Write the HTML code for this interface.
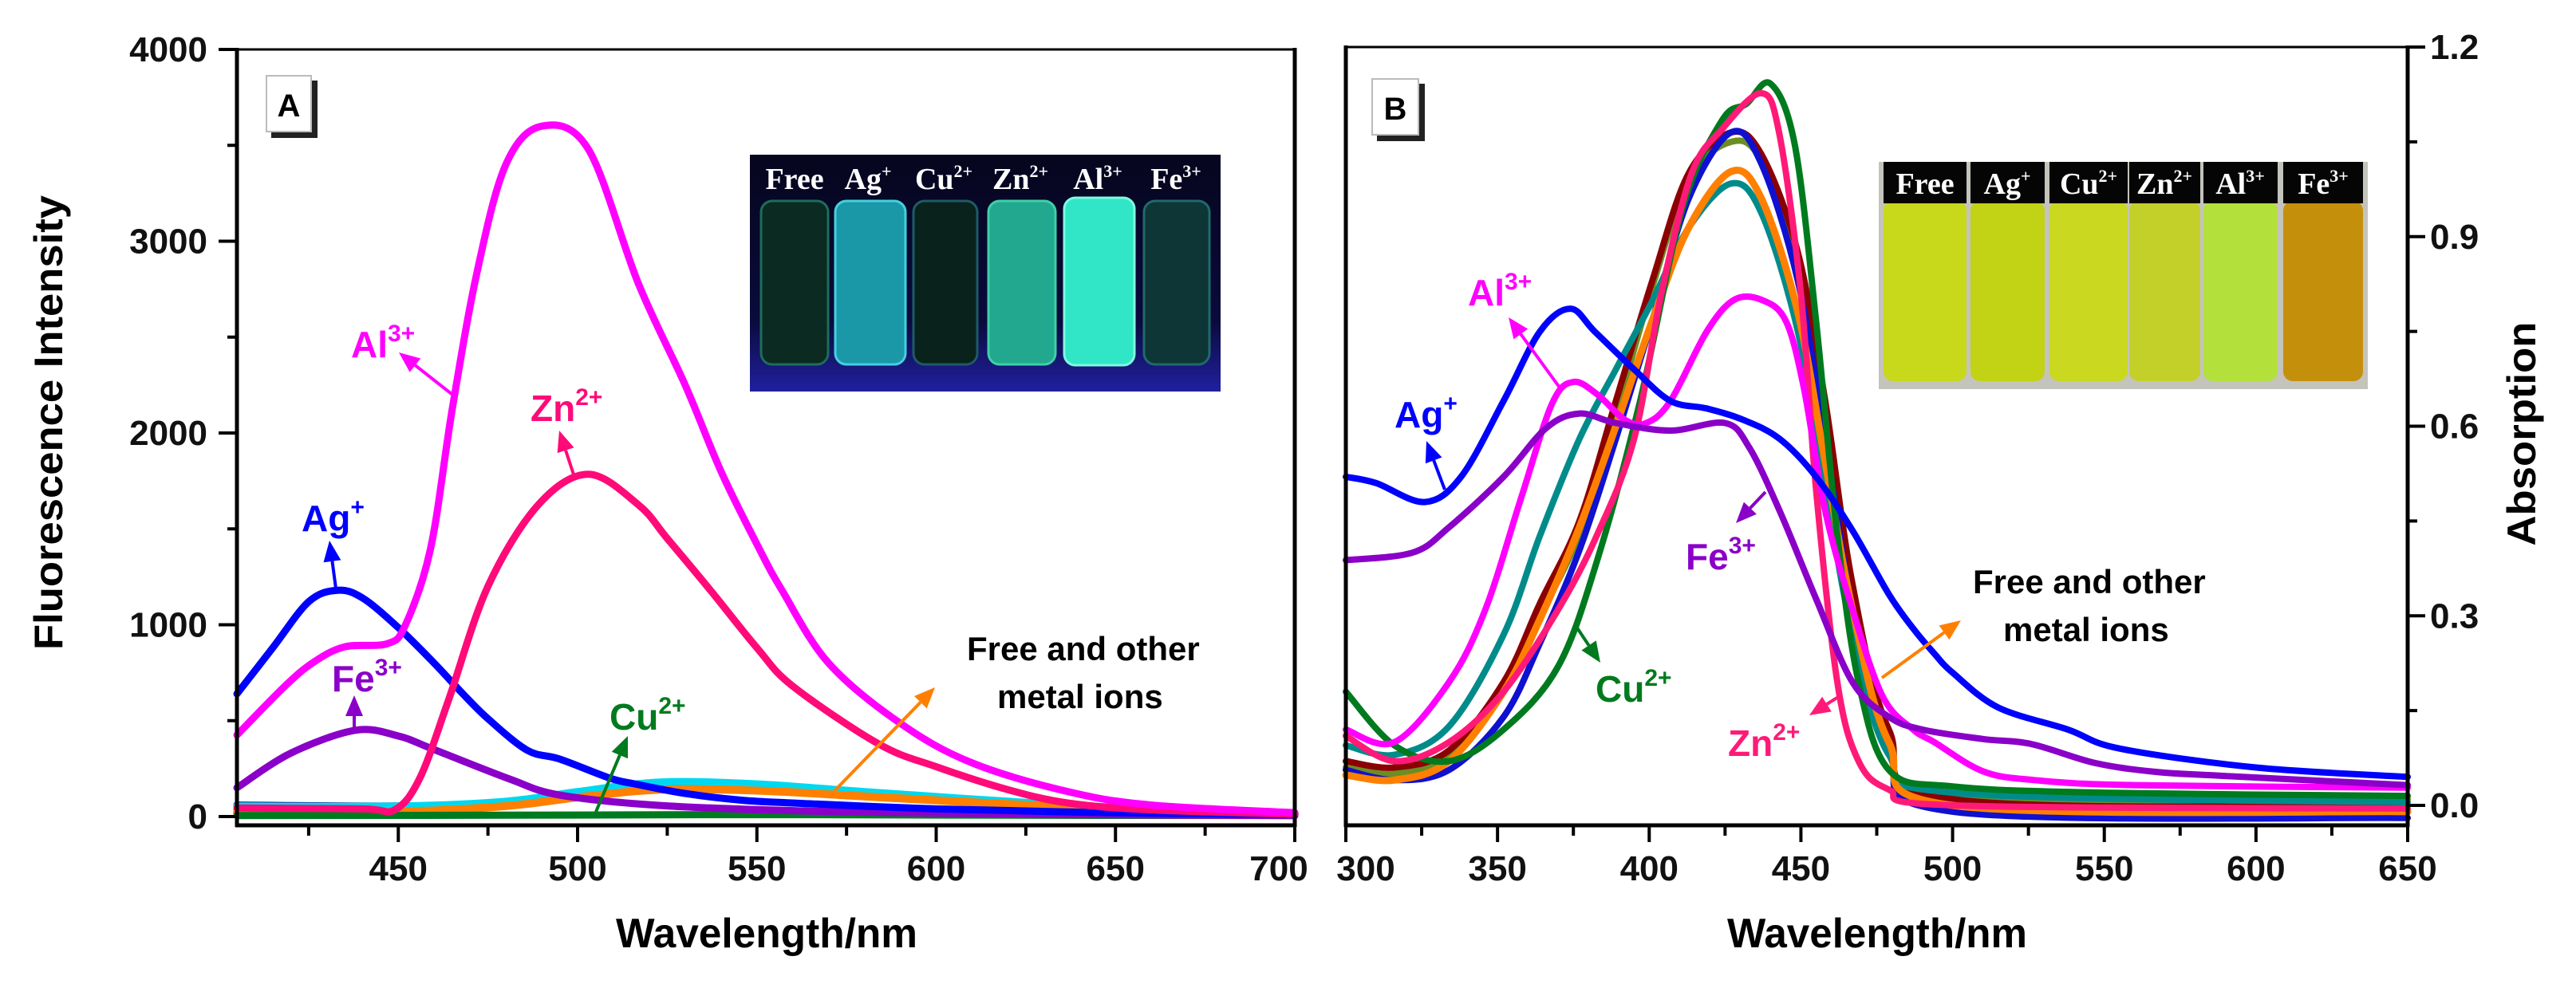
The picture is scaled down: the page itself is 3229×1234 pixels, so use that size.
<!DOCTYPE html>
<html><head><meta charset="utf-8"><title>Fluorescence and absorption spectra</title>
<style>
html,body{margin:0;padding:0;background:#fff;}
svg{display:block;font-family:"Liberation Sans",Arial,sans-serif;}
.tk{font-size:44px;font-weight:bold;fill:#111;}
.lab{font-size:46px;font-weight:bold;}
.vl{font-family:"Liberation Serif",serif;font-weight:bold;font-size:38px;fill:#fff;}
</style></head>
<body>
<svg id="chart" width="3229" height="1234" viewBox="0 0 3229 1234" xmlns="http://www.w3.org/2000/svg">
<rect x="0" y="0" width="3229" height="1234" fill="#fff"/>
<g id="gA"></g>
<g id="gB"></g>
<g id="axes"></g>

<g stroke="#000" fill="none">
  <line x1="297" y1="62" x2="1623" y2="62" stroke-width="3"/>
  <line x1="297" y1="60" x2="297" y2="1037" stroke-width="5"/>
  <line x1="295" y1="1035" x2="1625" y2="1035" stroke-width="5"/>
  <line x1="1623" y1="60" x2="1623" y2="1037" stroke-width="5"/>
</g>
<g stroke="#000" fill="none">
  <line x1="1687" y1="59" x2="3018" y2="59" stroke-width="3"/>
  <line x1="1687" y1="57" x2="1687" y2="1037" stroke-width="5"/>
  <line x1="1685" y1="1035" x2="3020" y2="1035" stroke-width="5"/>
  <line x1="3018" y1="57" x2="3018" y2="1037" stroke-width="5"/>
</g>

<text transform="translate(78,530) rotate(-90)" text-anchor="middle" font-size="50" font-weight="bold" textLength="570" lengthAdjust="spacingAndGlyphs">Fluorescence Intensity</text>
<text x="961" y="1188" text-anchor="middle" font-size="52" font-weight="bold" textLength="378" lengthAdjust="spacingAndGlyphs">Wavelength/nm</text>
<text x="2353" y="1188" text-anchor="middle" font-size="52" font-weight="bold" textLength="376" lengthAdjust="spacingAndGlyphs">Wavelength/nm</text>
<text transform="translate(3178,544) rotate(-90)" text-anchor="middle" font-size="50" font-weight="bold" textLength="281" lengthAdjust="spacingAndGlyphs">Absorption</text>

<g>
  <rect x="340" y="101" width="58" height="72" fill="#222"/>
  <rect x="334" y="95" width="56" height="70" fill="#fff" stroke="#bbb" stroke-width="2"/>
  <text x="362" y="146" text-anchor="middle" font-size="40" font-weight="bold">A</text>
</g>
<g>
  <rect x="1726" y="105" width="60" height="72" fill="#222"/>
  <rect x="1720" y="99" width="58" height="70" fill="#fff" stroke="#bbb" stroke-width="2"/>
  <text x="1749" y="150" text-anchor="middle" font-size="40" font-weight="bold">B</text>
</g>

<defs>
  <linearGradient id="uvbg" x1="0" y1="0" x2="0" y2="1">
    <stop offset="0" stop-color="#06061e"/><stop offset="0.7" stop-color="#0a0a3c"/><stop offset="1" stop-color="#2020a0"/>
  </linearGradient>
</defs>
<g>
  <rect x="940" y="194" width="590" height="297" fill="url(#uvbg)"/>
  <rect x="954" y="252" width="84" height="205" rx="14" fill="#0b2a22" stroke="#1c6e58" stroke-width="3"/>
  <rect x="1047" y="252" width="88" height="205" rx="14" fill="#1a98a8" stroke="#45d0e0" stroke-width="3"/>
  <rect x="1145" y="252" width="80" height="205" rx="14" fill="#0a221c" stroke="#1f5a66" stroke-width="3"/>
  <rect x="1239" y="252" width="84" height="205" rx="14" fill="#22a88e" stroke="#3fd0a8" stroke-width="3"/>
  <rect x="1334" y="248" width="88" height="210" rx="14" fill="#30e6c6" stroke="#7ff8e0" stroke-width="3"/>
  <rect x="1434" y="252" width="82" height="205" rx="14" fill="#0e3636" stroke="#1f6a6a" stroke-width="3"/>
  <text class="vl" x="996" y="237" text-anchor="middle">Free</text>
  <text class="vl" x="1088" y="237" text-anchor="middle">Ag<tspan dy="-15" font-size="22">+</tspan></text>
  <text class="vl" x="1183" y="237" text-anchor="middle">Cu<tspan dy="-15" font-size="22">2+</tspan></text>
  <text class="vl" x="1279" y="237" text-anchor="middle">Zn<tspan dy="-15" font-size="22">2+</tspan></text>
  <text class="vl" x="1376" y="237" text-anchor="middle">Al<tspan dy="-15" font-size="22">3+</tspan></text>
  <text class="vl" x="1474" y="237" text-anchor="middle">Fe<tspan dy="-15" font-size="22">3+</tspan></text>
</g>

<g>
  <rect x="2355" y="203" width="613" height="285" fill="#c4c4bc"/>
  <rect x="2361" y="252" width="104" height="226" rx="12" fill="#c8d81a"/>
  <rect x="2470" y="252" width="93" height="226" rx="12" fill="#c2d214"/>
  <rect x="2569" y="252" width="98" height="226" rx="12" fill="#cad820"/>
  <rect x="2669" y="252" width="89" height="226" rx="12" fill="#c4d02a"/>
  <rect x="2762" y="252" width="93" height="226" rx="12" fill="#b4e03c"/>
  <rect x="2862" y="252" width="100" height="226" rx="12" fill="#c4900c"/>
  <rect x="2361" y="203" width="104" height="52" fill="#050505"/>
  <rect x="2470" y="203" width="93" height="52" fill="#050505"/>
  <rect x="2569" y="203" width="98" height="52" fill="#050505"/>
  <rect x="2669" y="203" width="89" height="52" fill="#050505"/>
  <rect x="2762" y="203" width="93" height="52" fill="#050505"/>
  <rect x="2862" y="203" width="100" height="52" fill="#050505"/>
  <text class="vl" x="2413" y="243" text-anchor="middle">Free</text>
  <text class="vl" x="2516" y="243" text-anchor="middle">Ag<tspan dy="-15" font-size="22">+</tspan></text>
  <text class="vl" x="2618" y="243" text-anchor="middle">Cu<tspan dy="-15" font-size="22">2+</tspan></text>
  <text class="vl" x="2713" y="243" text-anchor="middle">Zn<tspan dy="-15" font-size="22">2+</tspan></text>
  <text class="vl" x="2808" y="243" text-anchor="middle">Al<tspan dy="-15" font-size="22">3+</tspan></text>
  <text class="vl" x="2912" y="243" text-anchor="middle">Fe<tspan dy="-15" font-size="22">3+</tspan></text>
</g>

<g id="annA"></g>
<g id="annB"></g>

<text x="1212" y="828" font-size="42" font-weight="bold">Free and other</text>
<text x="1250" y="888" font-size="42" font-weight="bold">metal ions</text>
<text x="2473" y="744" font-size="42" font-weight="bold">Free and other</text>
<text x="2511" y="804" font-size="42" font-weight="bold">metal ions</text>
</svg>

<script>
// ---------- Panel A data (fluorescence intensity) ----------
const ticksAX = [450, 500, 550, 600, 650, 700];
const minorAX = [425, 475, 525, 575, 625, 675];
const ticksAY = [0, 1000, 2000, 3000, 4000];
const minorAY = [500, 1500, 2500, 3500];

const wlA_Al = [405,418,426,435,447,452,459,465,472,480,490,503,517,530,540,550,557,570,590,610,637,660,700];
const valA_Al = [425,673,800,885,902,1000,1397,2120,2843,3400,3600,3480,2777,2250,1800,1420,1180,800,486,280,129,60,20];
const wlA_Zn = [405,440,449,456,464,475,489,503,517,525,537,550,560,584,600,620,637,660,700];
const valA_Zn = [45,40,35,200,607,1200,1625,1785,1625,1450,1181,880,680,378,260,140,70,35,12];
const wlA_Ag = [405,415,425,433,440,450,460,468,475,486,495,509,516,530,546,561,600,650,700];
const valA_Ag = [640,880,1120,1180,1140,985,800,640,510,345,300,200,170,120,85,70,40,20,10];
const wlA_Fe = [405,420,438,450,460,481,495,523,561,600,650,700];
const valA_Fe = [150,330,450,420,349,196,112,58,30,18,10,5];
const wlA_Cu = [405,500,550,600,700];
const valA_Cu = [5,8,10,8,5];
const wlA_free = [405,450,480,500,523,550,580,620,660,700];
const valA_cyan = [55,55,80,130,180,170,130,80,40,20];
const valA_navy = [60,55,70,115,160,155,120,75,38,18];
const valA_teal = [40,40,65,115,160,150,115,70,36,16];
const valA_orange = [20,25,55,100,140,135,105,65,35,15];

// ---------- Panel B data (absorption) ----------
const ticksBX = [300, 350, 400, 450, 500, 550, 600, 650];
const minorBX = [325, 375, 425, 475, 525, 575, 625];
const ticksBY = [0.0, 0.3, 0.6, 0.9, 1.2];
const tickLabelsBY = ["0.0", "0.3", "0.6", "0.9", "1.2"];
const minorBY = [0.15, 0.45, 0.75, 1.05];

const wlB_Ag = [300,310,326,338,352,364,374,382,395,407,419,431,443,455,467,479,487,494,500,515,538,555,600,650];
const valB_Ag = [0.52,0.51,0.48,0.52,0.64,0.75,0.786,0.75,0.69,0.64,0.628,0.61,0.58,0.52,0.435,0.334,0.28,0.24,0.21,0.155,0.12,0.09,0.06,0.045];
const wlB_Fe = [300,322,334,352,366,377,389,407,425,433,443,455,467,479,490,510,526,547,567,588,650];
const valB_Fe = [0.388,0.40,0.44,0.52,0.597,0.62,0.605,0.593,0.605,0.566,0.466,0.327,0.195,0.14,0.12,0.105,0.097,0.067,0.053,0.047,0.032];
const wlB_Al = [300,316,334,346,358,368,375,383,392,399,407,419,428,437,445,451,458,467,477,487,494,510,527,560,650];
const valB_Al = [0.12,0.10,0.195,0.31,0.49,0.636,0.67,0.65,0.61,0.605,0.64,0.75,0.80,0.80,0.767,0.66,0.466,0.31,0.172,0.12,0.1,0.054,0.04,0.032,0.028];
const wlB_Cu = [300,316,334,352,370,383,397,411,424,432,440,448,455,462,469,479,500,550,650];
const valB_Cu = [0.18,0.095,0.07,0.12,0.22,0.39,0.64,0.945,1.084,1.11,1.142,1.045,0.767,0.427,0.195,0.056,0.03,0.02,0.015];
const wlB_Zn = [300,316,334,352,370,383,395,404,414,424,437,443,450,455,462,469,479,500,650];
const valB_Zn = [0.11,0.07,0.10,0.18,0.31,0.43,0.58,0.81,1.0,1.07,1.127,1.06,0.81,0.50,0.195,0.07,0.025,0.0,-0.005];
const wlB_free = [300,316,334,352,364,377,389,401,413,427,437,449,458,467,479,500,650];
const valB_teal = [0.095,0.08,0.125,0.27,0.427,0.58,0.69,0.798,0.914,0.984,0.937,0.75,0.504,0.27,0.08,0.02,0.005];
const valB_orange = [0.048,0.04,0.07,0.18,0.295,0.44,0.6,0.767,0.914,1.003,0.96,0.78,0.543,0.31,0.10,0.0,-0.01];
const valB_blue2 = [0.056,0.04,0.056,0.14,0.257,0.404,0.58,0.767,0.96,1.065,1.015,0.83,0.58,0.31,0.087,-0.01,-0.02];
const valB_darkred = [0.07,0.06,0.087,0.195,0.32,0.45,0.64,0.83,1.0,1.065,1.03,0.875,0.64,0.35,0.12,0.01,0.0];
const valB_olive = [0.06,0.05,0.08,0.18,0.3,0.43,0.62,0.82,0.99,1.05,1.02,0.86,0.62,0.34,0.11,0.015,0.01];

function xA(w){ return 297 + (w - 405) * (1623 - 297) / 295; }
function yA(v){ return 1024 - v * (1024 - 62) / 4000; }
function xB(w){ return 1687 + (w - 300) * (3018 - 1687) / 350; }
function yB(v){ return 1010 - v * (1010 - 59) / 1.2; }

const NS = "http://www.w3.org/2000/svg";
function smoothPath(pts){
  let d = "M" + pts[0][0].toFixed(1) + "," + pts[0][1].toFixed(1);
  for (let i = 0; i < pts.length - 1; i++){
    const p0 = pts[i-1] || pts[i], p1 = pts[i], p2 = pts[i+1], p3 = pts[i+2] || p2;
    const c1x = p1[0] + (p2[0]-p0[0])/6, c1y = p1[1] + (p2[1]-p0[1])/6;
    const c2x = p2[0] - (p3[0]-p1[0])/6, c2y = p2[1] - (p3[1]-p1[1])/6;
    d += " C" + c1x.toFixed(1)+","+c1y.toFixed(1)+" "+c2x.toFixed(1)+","+c2y.toFixed(1)+" "+p2[0].toFixed(1)+","+p2[1].toFixed(1);
  }
  return d;
}
function drawSeries(g, xs, ys, sx, sy, color, w, name){
  const pts = xs.map((x,i)=>[sx(x), sy(ys[i])]);
  const p = document.createElementNS(NS, "path");
  p.setAttribute("d", smoothPath(pts));
  p.setAttribute("fill", "none");
  p.setAttribute("stroke", color);
  p.setAttribute("stroke-width", w);
  p.setAttribute("stroke-linejoin", "round");
  p.setAttribute("stroke-linecap", "round");
  
  
  g.appendChild(p);
}
const gA = document.getElementById("gA");
drawSeries(gA, wlA_free, valA_navy, xA, yA, "#1a1a8c", 9, "curve-a-free-navy");
drawSeries(gA, wlA_free, valA_teal, xA, yA, "#008b8b", 9, "curve-a-free-teal");
drawSeries(gA, wlA_free, valA_cyan, xA, yA, "#00d8f0", 9, "curve-a-free-cyan");
drawSeries(gA, wlA_free, valA_orange, xA, yA, "#ff8000", 10, "curve-a-free-orange");
drawSeries(gA, wlA_Cu, valA_Cu, xA, yA, "#007a1e", 9, "curve-a-cu");
drawSeries(gA, wlA_Fe, valA_Fe, xA, yA, "#8a00c8", 9, "curve-a-fe");
drawSeries(gA, wlA_Ag, valA_Ag, xA, yA, "#0000ff", 9, "curve-a-ag");
drawSeries(gA, wlA_Zn, valA_Zn, xA, yA, "#ff0a78", 9, "curve-a-zn");
drawSeries(gA, wlA_Al, valA_Al, xA, yA, "#ff00ff", 9, "curve-a-al");

const gB = document.getElementById("gB");
drawSeries(gB, wlB_free, valB_olive, xB, yB, "#6b8e23", 8, "curve-b-free-olive");
drawSeries(gB, wlB_free, valB_darkred, xB, yB, "#8b0000", 8, "curve-b-free-darkred");
drawSeries(gB, wlB_free, valB_blue2, xB, yB, "#1010d0", 8, "curve-b-free-blue");
drawSeries(gB, wlB_free, valB_teal, xB, yB, "#008b8b", 8, "curve-b-free-teal");
drawSeries(gB, wlB_free, valB_orange, xB, yB, "#ff8000", 9, "curve-b-free-orange");
drawSeries(gB, wlB_Cu, valB_Cu, xB, yB, "#007a1e", 8, "curve-b-cu");
drawSeries(gB, wlB_Zn, valB_Zn, xB, yB, "#ff1a78", 8, "curve-b-zn");
drawSeries(gB, wlB_Al, valB_Al, xB, yB, "#ff00ff", 8, "curve-b-al");
drawSeries(gB, wlB_Fe, valB_Fe, xB, yB, "#8a00c8", 8, "curve-b-fe");
drawSeries(gB, wlB_Ag, valB_Ag, xB, yB, "#0000ff", 8, "curve-b-ag");

const ax = document.getElementById("axes");
function line(x1,y1,x2,y2,w,name){
  const l = document.createElementNS(NS,"line");
  l.setAttribute("x1",x1); l.setAttribute("y1",y1); l.setAttribute("x2",x2); l.setAttribute("y2",y2);
  l.setAttribute("stroke","#000"); l.setAttribute("stroke-width",w);
  
  
  ax.appendChild(l);
}
function label(x,y,txt,anchor,name){
  const t = document.createElementNS(NS,"text");
  t.setAttribute("x",x); t.setAttribute("y",y); t.setAttribute("text-anchor",anchor);
  t.setAttribute("class","tk"); t.textContent = txt;
  
  
  ax.appendChild(t);
}
ticksAX.forEach((v,i)=>{ line(xA(v),1035,xA(v),1056,4,"x-tick-a"); label(xA(v) - (i===ticksAX.length-1?20:0),1104,String(v),"middle","x-tick-label-a"); });
minorAX.forEach(v=>{ line(xA(v),1035,xA(v),1048,4,"x-minor-tick-a"); });
ticksAY.forEach(v=>{ line(274,yA(v),297,yA(v),4,"y-tick-a"); label(260,yA(v)+15,String(v),"end","y-tick-label-a"); });
minorAY.forEach(v=>{ line(285,yA(v),297,yA(v),4,"y-minor-tick-a"); });
ticksBX.forEach((v,i)=>{ line(xB(v),1035,xB(v),1056,4,"x-tick-b"); label(xB(v) + (i===0?25:0),1104,String(v),"middle","x-tick-label-b"); });
minorBX.forEach(v=>{ line(xB(v),1035,xB(v),1048,4,"x-minor-tick-b"); });
ticksBY.forEach((v,i)=>{ line(3018,yB(v),3040,yB(v),4,"y-tick-b"); label(3046,yB(v)+15,tickLabelsBY[i],"start","y-tick-label-b"); });
minorBY.forEach(v=>{ line(3018,yB(v),3030,yB(v),4,"y-minor-tick-b"); });

function arrow(g,x1,y1,x2,y2,color,w,name){
  const ang = Math.atan2(y2-y1,x2-x1), L=26, H=11;
  const bx = x2 - L*Math.cos(ang), by = y2 - L*Math.sin(ang);
  const l = document.createElementNS(NS,"line");
  l.setAttribute("x1",x1); l.setAttribute("y1",y1); l.setAttribute("x2",bx); l.setAttribute("y2",by);
  l.setAttribute("stroke",color); l.setAttribute("stroke-width",w);
  
  
  g.appendChild(l);
  const h = document.createElementNS(NS,"polygon");
  const px = -Math.sin(ang)*H, py = Math.cos(ang)*H;
  h.setAttribute("points", x2+","+y2+" "+(bx+px)+","+(by+py)+" "+(bx-px)+","+(by-py));
  h.setAttribute("fill",color);
  
  
  g.appendChild(h);
}
function ionLabel(g,x,y,base,sup,color,name){
  const t = document.createElementNS(NS,"text");
  t.setAttribute("x",x); t.setAttribute("y",y); t.setAttribute("fill",color);
  t.setAttribute("class","lab");
  
  
  t.appendChild(document.createTextNode(base));
  const s = document.createElementNS(NS,"tspan");
  s.setAttribute("dy","-20"); s.setAttribute("font-size","30"); s.textContent = sup;
  t.appendChild(s);
  g.appendChild(t);
}
const annA = document.getElementById("annA");
arrow(annA,566,494,500,442,"#ff00ff",4,"arrow-a-al");
ionLabel(annA,440,448,"Al","3+","#ff00ff","label-a-al");
arrow(annA,719,595,701,540,"#ff0a78",4,"arrow-a-zn");
ionLabel(annA,665,528,"Zn","2+","#ff0a78","label-a-zn");
arrow(annA,421,738,413,678,"#0000ff",4,"arrow-a-ag");
ionLabel(annA,378,666,"Ag","+","#0000ff","label-a-ag");
arrow(annA,444,920,444,872,"#8a00c8",4,"arrow-a-fe");
ionLabel(annA,416,867,"Fe","3+","#8a00c8","label-a-fe");
arrow(annA,747,1018,787,923,"#007a1e",4,"arrow-a-cu");
ionLabel(annA,764,915,"Cu","2+","#007a1e","label-a-cu");
arrow(annA,1038,1000,1172,862,"#ff8000",4,"arrow-a-free");

const annB = document.getElementById("annB");
arrow(annB,1811,614,1788,553,"#0000ff",4,"arrow-b-ag");
ionLabel(annB,1748,536,"Ag","+","#0000ff","label-b-ag");
arrow(annB,1955,486,1891,398,"#ff00ff",4,"arrow-b-al");
ionLabel(annB,1840,383,"Al","3+","#ff00ff","label-b-al");
arrow(annB,2213,617,2176,656,"#8a00c8",4,"arrow-b-fe");
ionLabel(annB,2113,714,"Fe","3+","#8a00c8","label-b-fe");
arrow(annB,1974,783,2006,831,"#007a1e",4,"arrow-b-cu");
ionLabel(annB,2000,880,"Cu","2+","#007a1e","label-b-cu");
arrow(annB,2309,871,2268,897,"#ff1a78",4,"arrow-b-zn");
ionLabel(annB,2166,948,"Zn","2+","#ff1a78","label-b-zn");
arrow(annB,2359,850,2458,778,"#ff8000",4,"arrow-b-free");
</script>
</body></html>
